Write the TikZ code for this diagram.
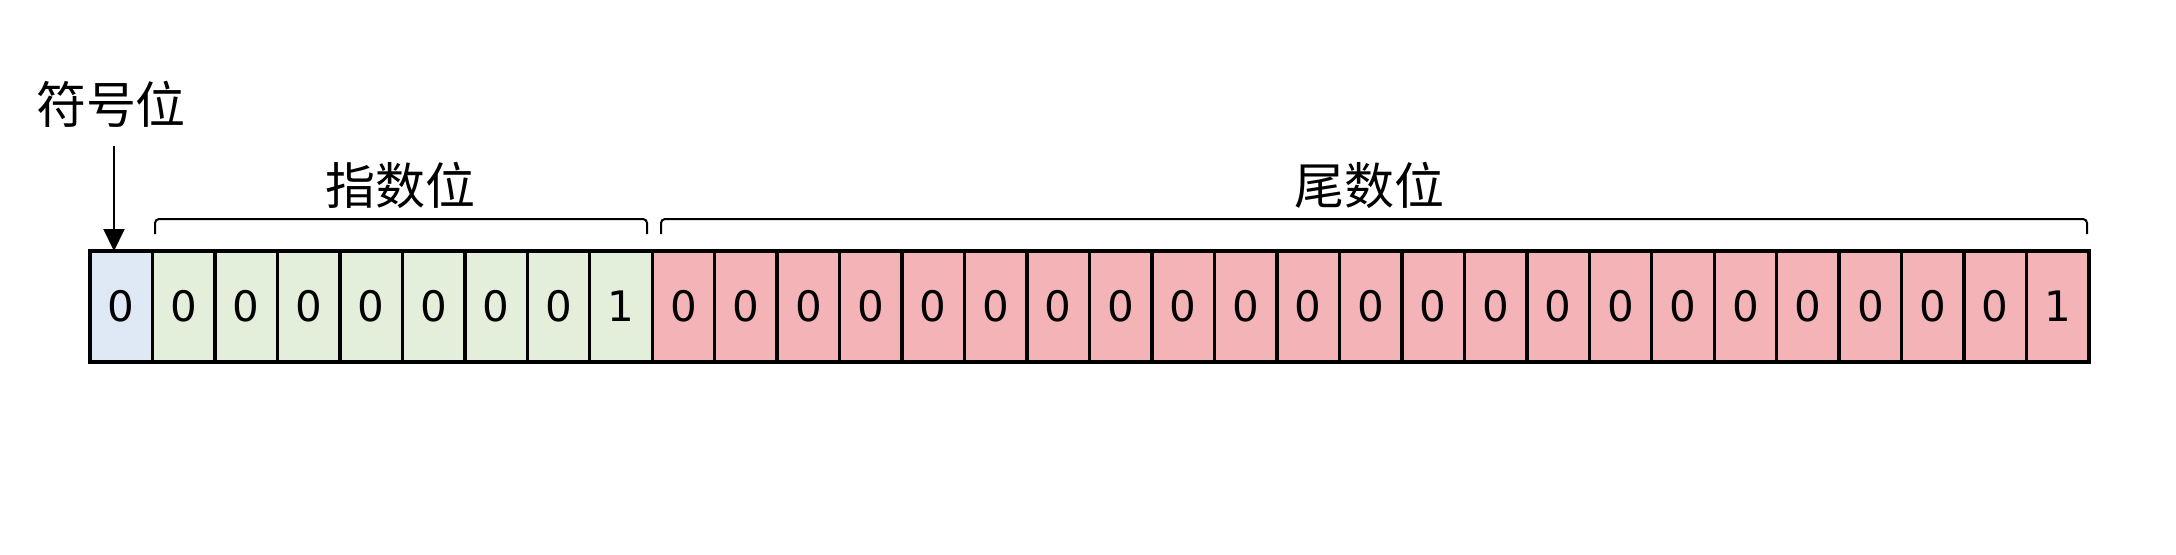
\documentclass[tikz,border=0pt]{standalone}
\usepackage{fontspec}
\newfontfamily\cjk{Noto Sans CJK SC}
\newfontfamily\digitfont{DejaVu Sans}
\usetikzlibrary{arrows.meta}
\definecolor{signc}{RGB}{222,233,245}
\definecolor{expc}{RGB}{227,239,218}
\definecolor{manc}{RGB}{244,180,183}
\tikzset{
  bitcell/.style={draw=black, line width=1.7pt, minimum width=31.235pt, minimum height=55.5pt, inner sep=0pt, outer sep=0pt, anchor=north west, font=\digitfont\fontsize{21}{21}\selectfont},
  label/.style={font=\cjk\fontsize{25}{25}\selectfont, inner sep=0pt},
  bracket/.style={line width=1pt, rounded corners=2pt},
  pointer/.style={line width=1pt, -{Triangle[length=11pt,width=10.5pt]}}
}
\begin{document}
\begin{tikzpicture}[x=0.5pt,y=-0.5pt]
\useasboundingbox (0,0) rectangle (2176,554);
\fill[white] (0,0) rectangle (2176,554);
\def\bits{0,0,0,0,0,0,0,0,1,0,0,0,0,0,0,0,0,0,0,0,0,0,0,0,0,0,0,0,0,0,0,1}
\foreach \b [count=\i from 0] in \bits {
  \ifnum\i=0 \def\fc{signc}\else\ifnum\i<9 \def\fc{expc}\else\def\fc{manc}\fi\fi
  \node[bitcell, fill=\fc] (c\i) at ({90+62.47*\i},251) {\b};
}
\draw[line width=1.7pt] (c0.north west) rectangle (c31.south east);
\node[label] (sign) at (111,104) {符号位};
\node[label] (expo) at (400,185) {指数位};
\node[label] (mant) at (1369,185) {尾数位};
\coordinate (arrtop) at (114,146);
\coordinate (arrend) at (114,251);
\draw[pointer] (arrtop) -- (arrend);
\coordinate (e1) at (155,234);
\coordinate (e2) at (647,234);
\coordinate (m1) at (661,234);
\coordinate (m2) at (2087,234);
\draw[bracket] (e1) -- ++(0,-15) -| (e2);
\draw[bracket] (m1) -- ++(0,-15) -| (m2);
\end{tikzpicture}
\end{document}
